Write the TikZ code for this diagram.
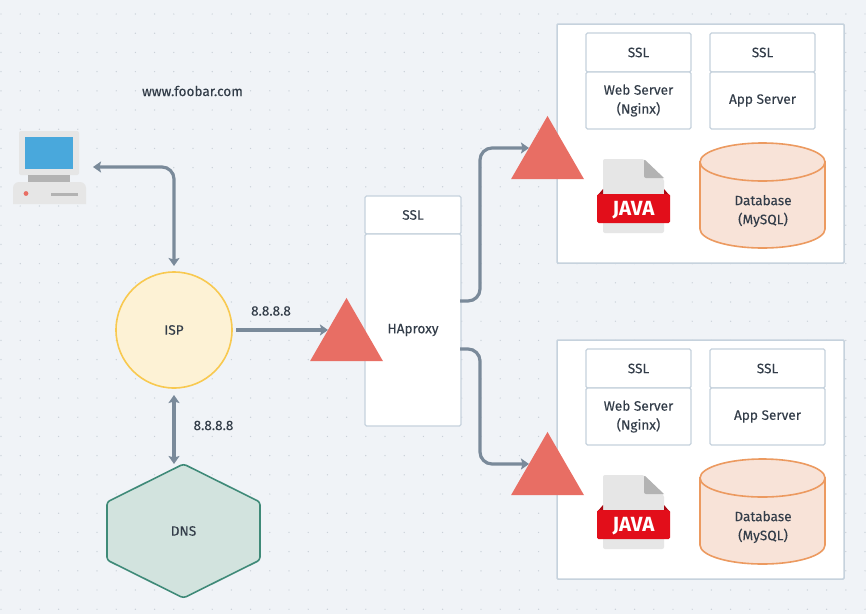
\documentclass[tikz,border=0pt]{standalone}
\usepackage{fontspec}
\setmainfont{Fira Sans}[FakeBold=0.12]
\newfontfamily\javafont{Fira Sans}
\usetikzlibrary{arrows.meta,shapes.geometric}
\definecolor{bgc}{HTML}{F0F3F7}
\definecolor{dotc}{HTML}{C9D0D8}
\definecolor{boxline}{HTML}{C6D2DD}
\definecolor{txt}{HTML}{333D49}
\definecolor{conn}{HTML}{7A8A9A}
\definecolor{tri}{HTML}{E86E64}
\definecolor{ispf}{HTML}{FDF2D5}
\definecolor{ispd}{HTML}{F8C950}
\definecolor{dnsf}{HTML}{D2E3DE}
\definecolor{dnsd}{HTML}{3F8A78}
\definecolor{dbf}{HTML}{F8E3D8}
\definecolor{dbd}{HTML}{EC9A60}
\definecolor{pcl}{HTML}{E6E6E6}
\definecolor{pcd}{HTML}{B3B3B3}
\definecolor{pcs}{HTML}{49A8DC}
\definecolor{javar}{HTML}{E20E1A}
\tikzset{
  x=1pt,y=-1pt,
  lbl/.style={text=txt,font=\fontsize{13.6}{19}\selectfont,align=center,inner sep=0pt},
  ibox/.style={draw=boxline,fill=white,line width=1.3pt,rounded corners=1.5pt,inner sep=0pt,outer sep=0pt,
    text=txt,font=\fontsize{13.6}{19}\selectfont,align=center},
  link/.style={draw=conn,line width=3.2pt,rounded corners=12pt,
    -{Stealth[length=8pt,width=11pt,inset=1.5pt]}},
  dlink/.style={link,{Stealth[length=8pt,width=11pt,inset=1.5pt]}-{Stealth[length=8pt,width=11pt,inset=1.5pt]}},
  tribox/.style={regular polygon,regular polygon sides=3,fill=tri,minimum size=84.3pt,inner sep=0pt,outer sep=0pt},
}
% #1 prefix, #2 vertical shift, #3 width of right column
\newcommand{\serverblock}[3]{%
\begin{scope}[yshift=-#2pt]
  \node[ibox,line width=1.5pt,rounded corners=1pt,minimum width=287pt,minimum height=239pt] (#1outer) at (700.5,143.5) {};
  \node[ibox,minimum width=105pt,minimum height=39pt] (#1ssla) at (638.5,52.5) {SSL};
  \node[ibox,minimum width=105pt,minimum height=57pt] (#1web) at (638.5,100.5) {Web Server\\(Nginx)};
  \node[ibox,minimum width=#3pt,minimum height=39pt] (#1sslb) at ({710+#3/2},52.5) {SSL};
  \node[ibox,minimum width=#3pt,minimum height=57pt] (#1app) at ({710+#3/2},100.5) {App Server};
  % java icon
  \fill[pcl,rounded corners=2pt] (603,233) -- (603,159) -- (644,159) -- (664,179) -- (664,233) -- cycle;
  \fill[pcd] (644,159) -- (664,178) -- (650,178) [rounded corners=2pt] -- (644,178) -- cycle;
  \fill[javar!75!black] (597,196) -- (603,189) -- (603,196) -- cycle;
  \fill[javar!75!black] (670,196) -- (664,189) -- (664,196) -- cycle;
  \fill[javar,rounded corners=1.5pt] (597,194) -- (670,194) -- (670,223) -- (597,223) -- cycle;
  \node[inner sep=0pt,text=white,font=\javafont\fontsize{20.5}{20}\selectfont\bfseries] (#1java) at (633.5,210) {JAVA};
  % database
  \draw[draw=dbd,fill=dbf,line width=1.6pt] (700,162) -- (700,229) arc[start angle=180,end angle=360,x radius=62.5pt,y radius=19pt] -- (825,162) -- cycle;
  \draw[draw=dbd,fill=dbf,line width=1.6pt] (762.5,162) ellipse [x radius=62.5pt,y radius=19pt];
  \node[lbl] (#1db) at (763,211) {Database\\(MySQL)};
\end{scope}}
\begin{document}
\begin{tikzpicture}
\useasboundingbox (0,0) rectangle (866,614);
\fill[bgc] (0,0) rectangle (866,614);
% dot grid
\foreach \i in {0,...,45}{\foreach \j in {0,...,32}{
  \fill[dotc] ({1+19.2*\i},{14+19.2*\j}) circle[radius=0.7pt];}}

\node[lbl] (www) at (192.5,91) {www.foobar.com};

% computer
\fill[pcl,rounded corners=2pt] (19,131) rectangle (79,175);
\fill[pcs] (25,137) rectangle (73,169);
\fill[pcd] (28,175) rectangle (70,182);
\fill[pcl,rounded corners=6pt] (13,204) [sharp corners] -- (13,204) [rounded corners=6pt] -- (13,182) -- (86,182) [sharp corners] -- (86,204) -- cycle;
\fill[tri] (26,193.5) circle[radius=2.4pt];
\fill[pcd] (51,193) rectangle (78,196);
\coordinate (pc) at (93,167);

% ISP, DNS
\node[circle,draw=ispd,fill=ispf,line width=1.6pt,minimum size=116pt,inner sep=0pt,outer sep=0pt,text=txt,font=\fontsize{13.6}{19}\selectfont] (isp) at (174,330) {ISP};
\coordinate (dnstop) at (174,464);
\draw[draw=dnsd,fill=dnsf,line width=1.6pt,rounded corners=3pt] (183.5,464) -- (260,502) -- (260,560) -- (183.5,598) -- (107,560) -- (107,502) -- cycle;
\node[lbl] (dns) at (183.5,531) {DNS};
\node[lbl] (ipa) at (271,311) {8.8.8.8};
\node[lbl] (ipb) at (213.5,425.5) {8.8.8.8};

% HAproxy
\node[ibox,minimum width=96pt,minimum height=38pt] (hassl) at (413,215) {SSL};
\node[ibox,minimum width=96pt,minimum height=192pt] (ha) at (413,330) {HAproxy};

% servers
\serverblock{a}{0}{105}
\serverblock{b}{316}{115}

% triangles' ports and connector ends
\coordinate (hap1) at (460,301);
\coordinate (hap2) at (460,349);
\coordinate (t1in) at (529,148);
\coordinate (t2in) at (529,464);
\coordinate (t3in) at (328,330);

\draw[dlink] (pc) -- (174,167) -- ([yshift=6pt]isp.north);
\draw[dlink] ([yshift=-7pt]isp.south) -- (dnstop);
\draw[link,shorten <=4pt] (isp.east) -- (t3in);
\draw[link] (hap1) -- (480,301) -- (480,148) -- (t1in);
\draw[link] (hap2) -- (480,349) -- (480,464) -- (t2in);

\node[tribox] (t1) at (547.5,158.1) {};
\node[tribox] (t2) at (547.5,474.1) {};
\node[tribox] (t3) at (346.5,340.1) {};
\end{tikzpicture}
\end{document}
